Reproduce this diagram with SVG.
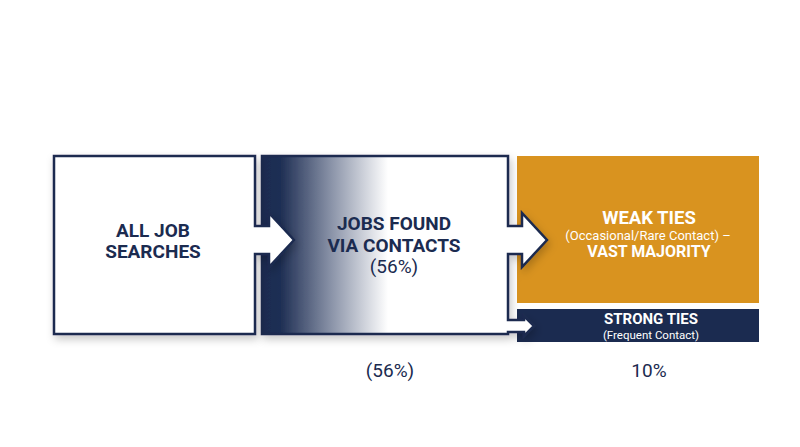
<svg xmlns="http://www.w3.org/2000/svg" width="800" height="447" viewBox="0 0 800 447">
<defs>
<linearGradient id="fade" gradientUnits="userSpaceOnUse" x1="262" y1="0" x2="388" y2="0">
<stop offset="0" stop-color="#1B2B50"/>
<stop offset="0.15" stop-color="#1F2F54"/>
<stop offset="0.55" stop-color="#8A93A8"/>
<stop offset="1" stop-color="#FFFFFF"/>
</linearGradient>
<filter id="sh" x="-10%" y="-10%" width="125%" height="130%">
<feDropShadow dx="2" dy="4" stdDeviation="4" flood-color="#000" flood-opacity="0.22"/>
</filter>
<style>
.box{stroke:#1B2B50;stroke-width:2.5;stroke-linejoin:miter}
.t{font-family:Roboto,"Liberation Sans",sans-serif;text-anchor:middle}
.b{font-weight:bold}
.navy{fill:#1B2B50}
.white{fill:#FFFFFF}
</style>
</defs>
<rect width="800" height="447" fill="#FFFFFF"/>
<g id="weak-ties">
<rect x="517" y="156" width="242" height="147" fill="#D9931F"/>
<text class="t b white" x="649" y="224" font-size="18.5">WEAK TIES</text>
<text class="t white" x="648" y="240" font-size="13">(Occasional/Rare Contact) –</text>
<text class="t b white" x="649" y="257" font-size="16">VAST MAJORITY</text>
</g>
<g id="strong-ties">
<rect x="517" y="309" width="242" height="33" fill="#1B2B50"/>
<text class="t b white" x="651" y="324" font-size="15">STRONG TIES</text>
<text class="t white" x="651" y="339" font-size="11.5">(Frequent Contact)</text>
</g>
<g id="connectors">
</g>
<g id="jobs-via-contacts">
<path class="box" filter="url(#sh)" fill="url(#fade)" d="M262,156 H508 V226 H522 V213 L547,240 L522,267 V254 H508 V320 H524 V316 L534,326 L524,336 V332 H508 V334 H262 Z"/>
<text class="t b navy" x="394" y="230" font-size="19">JOBS FOUND</text>
<text class="t b navy" x="394" y="252" font-size="19">VIA CONTACTS</text>
<text class="t navy" x="394" y="273" font-size="19">(56%)</text>
</g>
<g id="all-job-searches">
<path class="box" filter="url(#sh)" fill="#FFFFFF" d="M54,156 H255 V226 H269 V213 L294,240 L269,267 V254 H255 V334 H54 Z"/>
<text class="t b navy" x="153" y="237" font-size="19">ALL JOB</text>
<text class="t b navy" x="153" y="258" font-size="19">SEARCHES</text>
</g>
<g id="labels">
<text class="t navy" x="390" y="377" font-size="19">(56%)</text>
<text class="t navy" x="649" y="377" font-size="19">10%</text>
</g>
</svg>
